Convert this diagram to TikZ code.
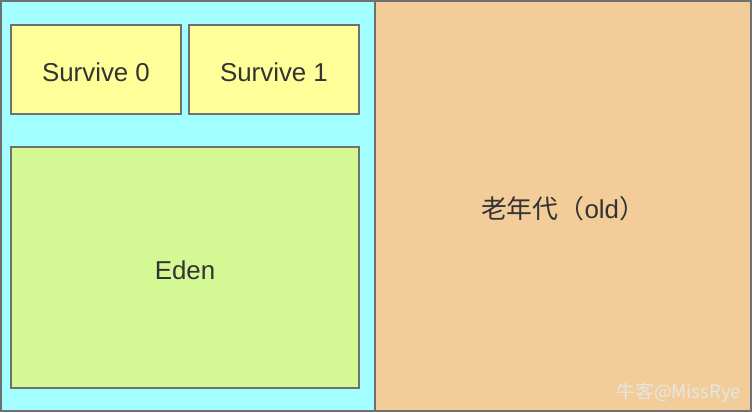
\documentclass[tikz,border=0pt]{standalone}
\usepackage{fontspec}
\setmainfont{Liberation Sans}
\newfontfamily\cjk{Noto Sans CJK SC}
\usetikzlibrary{positioning}
\definecolor{youngcol}{HTML}{A3FFFF}
\definecolor{survcol}{HTML}{FFFF99}
\definecolor{edencol}{HTML}{D4F894}
\definecolor{oldcol}{HTML}{F2CD9A}
\definecolor{edgecol}{HTML}{707070}
\definecolor{textcol}{HTML}{333333}

\begin{document}
\begin{tikzpicture}[
  x=0.75pt, y=-0.75pt,
  region/.style={
    draw=edgecol, line width=1.5pt, inner sep=0pt,
    text height=18.5pt, text depth=0pt,
    font=\fontsize{19.4}{23}\selectfont, text=textcol, align=center
  },
  wm/.style={font=\cjk\fontsize{14}{16}\selectfont, text=white!80!gray}
]
\useasboundingbox (0,0) rectangle (752,412);

% ============ young generation (left) ============
\node[region, fill=youngcol, minimum width=280.5pt, minimum height=307.5pt] (young)
  at (188,206) {};

% survivor spaces
\node[region, fill=survcol, minimum width=127.5pt, minimum height=66.75pt] (surv0)
  at (96,69.5) {Survive 0};
\node[region, fill=survcol, minimum width=127.5pt, minimum height=66.75pt] (surv1)
  at (274,69.5) {Survive 1};

% eden
\node[region, fill=edencol, minimum width=261pt, minimum height=180.75pt] (eden)
  at (185,267.5) {Eden};

% ============ old generation (right) ============
\node[region, fill=oldcol, minimum width=282pt, minimum height=307.5pt] (old)
  at (563,206) {{\cjk 老年代（}old{\cjk ）}};

% watermark
\node[wm, anchor=east] (wmark) at (746,393) {牛客@MissRye};

\end{tikzpicture}
\end{document}
